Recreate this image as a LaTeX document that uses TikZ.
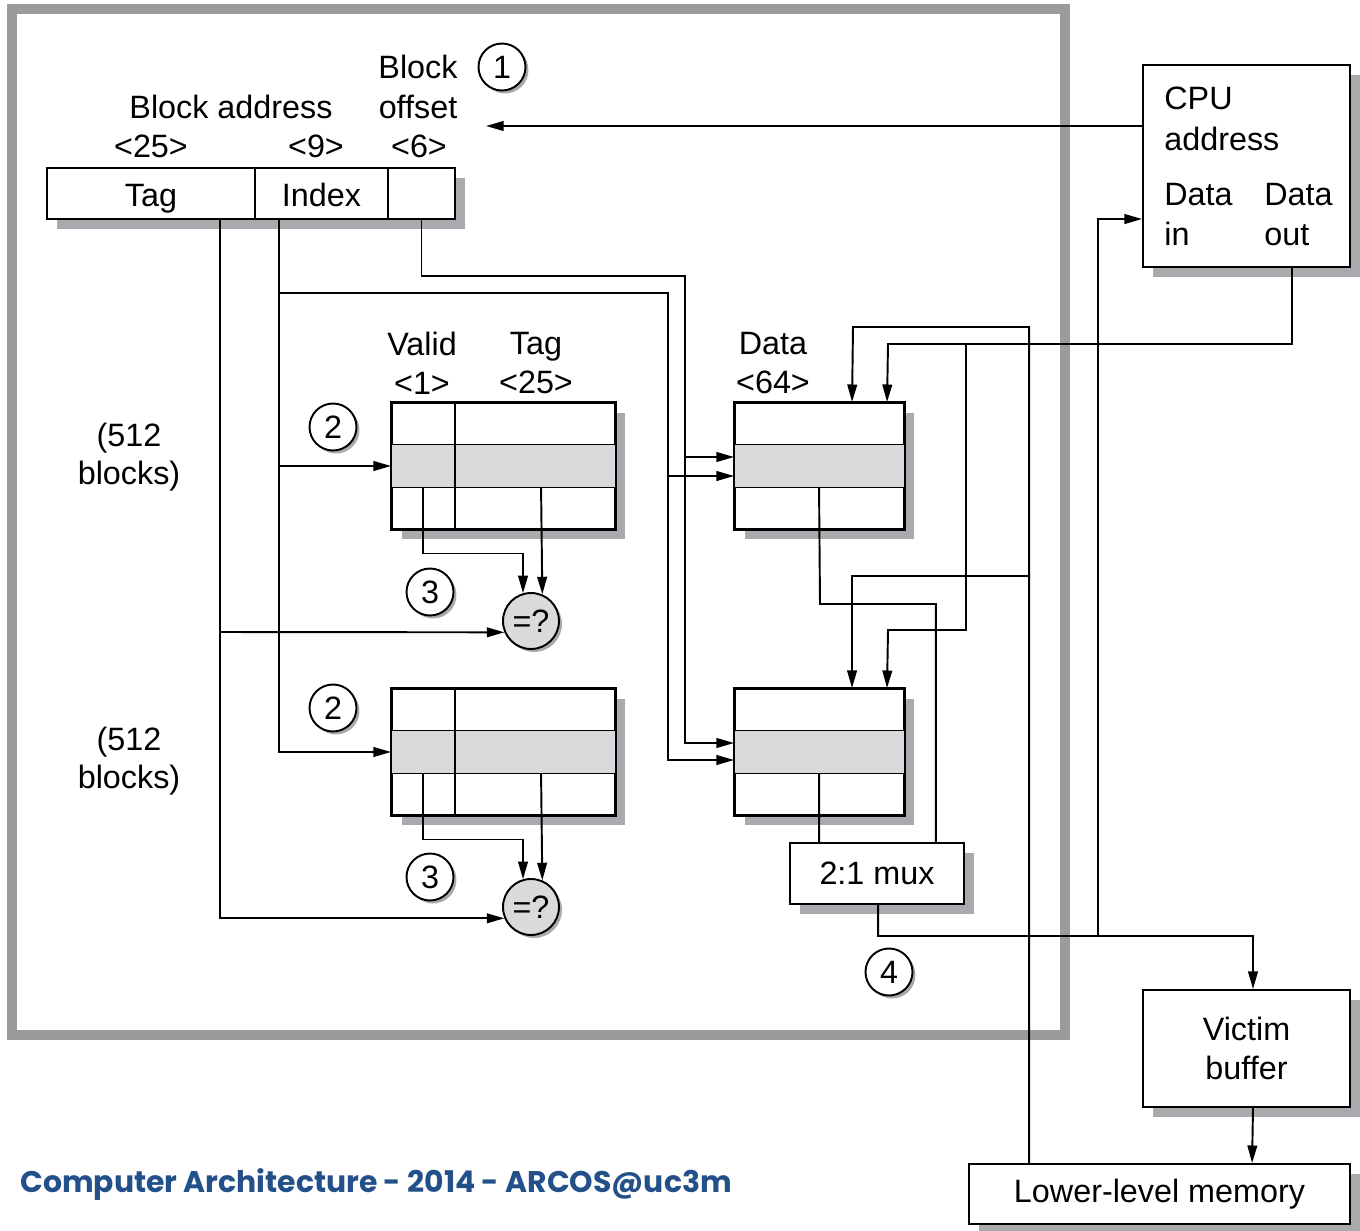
\documentclass[tikz,border=0pt]{standalone}
\usepackage{fontspec}
\setmainfont{Liberation Sans}
\newfontfamily\pie{Poppins}
\usetikzlibrary{arrows.meta,positioning,calc,shadows}
\definecolor{cmarco}{HTML}{9B9B9D}
\definecolor{csombra}{HTML}{A9AAAD}
\definecolor{cfila}{HTML}{DADADC}
\definecolor{cpie}{HTML}{24508A}
\tikzset{
  caja/.style={draw,fill=white,line width=1.1pt,inner sep=0pt,
               general shadow={fill=csombra,shadow xshift=0.2cm,shadow yshift=-0.2cm}},
  campo/.style={caja,minimum height=1.02cm,text height=20pt,text depth=5pt},
  paso/.style={circle,draw,fill=white,line width=1.1pt,minimum size=0.94cm,inner sep=0pt,
               general shadow={fill=csombra,shadow xshift=0.06cm,shadow yshift=-0.06cm}},
  comp/.style={paso,fill=cfila,minimum size=1.12cm},
  flecha/.style={-{Triangle[length=10pt,width=5.5pt]},line width=1.1pt},
  linea/.style={line width=1.1pt},
  et/.style={inner sep=0pt,align=center},
  etb/.style={inner sep=0pt,anchor=base},
  etw/.style={inner sep=0pt,anchor=base west},
}
\begin{document}
\begin{tikzpicture}[x=0.02cm,y=-0.02cm,font=\fontsize{18.4}{22}\selectfont]
\useasboundingbox (0,0) rectangle (1360,1231);

% marco de la cache
\draw[cmarco,line width=0.2cm] (12,9) rectangle (1065,1035);

% direccion
\node[campo,minimum width=4.16cm] (tagf) at (151,193.5) {Tag};
\node[campo,minimum width=2.66cm] (idxf) at (321.5,193.5) {Index};
\node[campo,minimum width=1.34cm] (offf) at (421.5,193.5) {};
\node[etb] (bloq) at (231,118) {Block address};
\node[etb] (bits1) at (151,157) {<25>};
\node[etb] (bits2) at (316,157) {<9>};
\node[etb] (bits3) at (419,157) {<6>};
\node[etb] (offa) at (418,78) {Block};
\node[etb] (offb) at (418,118) {offset};
\node[paso] (p1) at (502,67) {1};
\coordinate (dirin) at (486,126);

% arrays de etiquetas y datos
\node[caja,minimum width=4.46cm,minimum height=2.52cm] (tag1) at (503.5,466) {};
\node[caja,minimum width=4.46cm,minimum height=2.52cm] (tag2) at (503.5,752) {};
\node[caja,minimum width=3.38cm,minimum height=2.52cm] (dat1) at (819.5,466) {};
\node[caja,minimum width=3.38cm,minimum height=2.52cm] (dat2) at (819.5,752) {};
\foreach \a in {tag1,tag2,dat1,dat2}{
  \fill[cfila] ($(\a.west)+(0,-21.5)$) rectangle ($(\a.east)+(0,21.5)$);
  \draw[linea] ($(\a.west)+(0,-21.5)$) -- ($(\a.east)+(0,-21.5)$);
  \draw[linea] ($(\a.west)+(0,21.5)$) -- ($(\a.east)+(0,21.5)$);
  \draw[linea] (\a.north west) rectangle (\a.south east);
}
\foreach \a in {tag1,tag2}
  \draw[linea] ($(\a.north west)+(64,0)$) -- ($(\a.south west)+(64,0)$);

\node[et] (valid) at (422,363) {Valid\\<1>};
\node[et] (tagl) at (536,363) {Tag\\<25>};
\node[et] (datl) at (773,363) {Data\\<64>};
\node[et] (blq1) at (129,457) {(512\\blocks)};
\node[et] (blq2) at (129,761) {(512\\blocks)};

\node[paso] (p2a) at (333,427) {2};
\node[paso] (p2b) at (333,708) {2};
\node[paso] (p3a) at (430,592) {3};
\node[paso] (p3b) at (430,877) {3};
\node[comp] (cmp1) at (531,621) {=?};
\node[comp] (cmp2) at (531,907) {=?};

\node[caja,minimum width=3.48cm,minimum height=1.22cm] (mux) at (877,873.5) {2:1 mux};
\node[paso] (p4) at (889,972) {4};

% bloques externos
\node[caja,minimum width=4.14cm,minimum height=4.04cm] (cpu) at (1246.5,166) {};
\node[etw] (cpua) at (1164,109) {CPU};
\node[etw] (cpub) at (1164,150) {address};
\node[etw] (din1) at (1164,205) {Data};
\node[etw] (din2) at (1164,245) {in};
\node[etw] (dout1) at (1264,205) {Data};
\node[etw] (dout2) at (1264,245) {out};
\node[caja,minimum width=4.14cm,minimum height=2.34cm,align=center] (vic) at (1246.5,1048.5) {Victim\\buffer};
\node[caja,minimum width=7.62cm,minimum height=1.2cm] (mem) at (1159.5,1194) {Lower-level memory};

% conexiones
\draw[flecha] ($(cpu.west)+(0,-40)$) -- (dirin);
\draw[flecha] ($(tagf.south east)+(-36,0)$) |- (cmp2.203);
\draw[flecha] (219,632) -- (cmp1.203);
\draw[flecha] ($(idxf.south west)+(25,0)$) |- (tag2.west);
\draw[flecha] (280,466) -- (tag1.west);
\draw[flecha] (280,293) -| (668,760) -- ($(dat2.west)+(0,8)$);
\draw[flecha] (668,476) -- ($(dat1.west)+(0,10)$);
\draw[flecha] (offf.south) |- (685,276) -- (685,743) -- ($(dat2.west)+(0,-9)$);
\draw[flecha] (685,457) -- ($(dat1.west)+(0,-9)$);
\foreach \a/\c in {tag1/cmp1,tag2/cmp2}{
  \draw[flecha] ($(\a.west)+(32,21.5)$) -- ++(0,66) -| (\c.106);
  \draw[flecha] ($(\a.west)+(150,21.5)$) -- (\c.67);
}
\draw[linea] ($(dat1.west)+(85,21.5)$) -- (820,604) -| ($(mux.north east)+(-29,0)$);
\draw[linea] ($(dat2.west)+(85,21.5)$) -- ($(mux.north west)+(30,0)$);
\draw[flecha] ($(mux.south west)+(89,0)$) |- (1253,936) -- ($(vic.north)+(6.5,0)$);
\draw[flecha] (1098,936) -- (1098,219) -- ($(cpu.west)+(0,53)$);
\draw[flecha] ($(cpu.south)+(45.5,0)$) |- (888,344) -- ($(dat1.north west)+(153,0)$);
\draw[flecha] (966,344) |- (888,630) -- ($(dat2.north west)+(153,0)$);
\draw[flecha] ($(mem.north west)+(61,0)$) |- (853,327) -- ($(dat1.north west)+(118,0)$);
\draw[flecha] (1030,576) -| ($(dat2.north west)+(118,0)$);
\draw[flecha] ($(vic.south)+(6.5,0)$) -- ($(mem.north west)+(284,0)$);

% pie
\node[anchor=base west,inner sep=0pt,text=cpie,font=\pie\bfseries\fontsize{17}{20}\selectfont] (pie) at (20,1192)
  {Computer Architecture - 2014 - ARCOS@uc3m};
\end{tikzpicture}
\end{document}
